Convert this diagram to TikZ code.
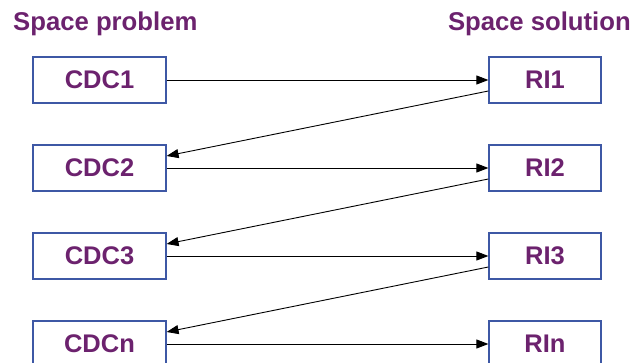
\documentclass[tikz,border=0pt]{standalone}
\usepackage{fontspec}
\setmainfont{Liberation Sans}
\usetikzlibrary{arrows.meta}
\definecolor{txtpurple}{RGB}{108,34,110}
\definecolor{boxblue}{RGB}{62,88,165}
\begin{document}
\begin{tikzpicture}[x=1pt,y=-1pt,
  heading/.style={text=txtpurple,font=\fontsize{25.7}{29}\selectfont\bfseries,inner sep=0pt},
  cdcbox/.style={draw=boxblue,line width=1.2pt,minimum width=133pt,minimum height=46pt,inner sep=0pt,text=txtpurple,font=\fontsize{25.5}{29}\selectfont\bfseries},
  ribox/.style={cdcbox,minimum width=112pt},
  conn/.style={draw=black,line width=0.9pt,-{Triangle[length=12pt,width=9pt]}}]
\useasboundingbox (0,0) rectangle (633,363);
\clip (0,0) rectangle (633,363);
\node[heading,anchor=base west] (hp) at (13,31) {Space problem};
\node[heading,anchor=base east] (hs) at (631,31) {Space solution};
\node[cdcbox] (c1) at (99.5,80) {CDC1};
\node[cdcbox] (c2) at (99.5,168) {CDC2};
\node[cdcbox] (c3) at (99.5,256) {CDC3};
\node[cdcbox] (cn) at (99.5,344) {CDCn};
\node[ribox] (r1) at (545,80) {RI1};
\node[ribox] (r2) at (545,168) {RI2};
\node[ribox] (r3) at (545,256) {RI3};
\node[ribox] (rn) at (545,344) {RIn};
\draw[conn] (c1.east) -- (r1.west);
\draw[conn] (c2.east) -- (r2.west);
\draw[conn] (c3.east) -- (r3.west);
\draw[conn] (cn.east) -- (rn.west);
\draw[conn] ([yshift=-11pt]r1.west) -- ([yshift=12pt]c2.east);
\draw[conn] ([yshift=-11pt]r2.west) -- ([yshift=12pt]c3.east);
\draw[conn] ([yshift=-11pt]r3.west) -- ([yshift=12pt]cn.east);
\end{tikzpicture}
\end{document}
